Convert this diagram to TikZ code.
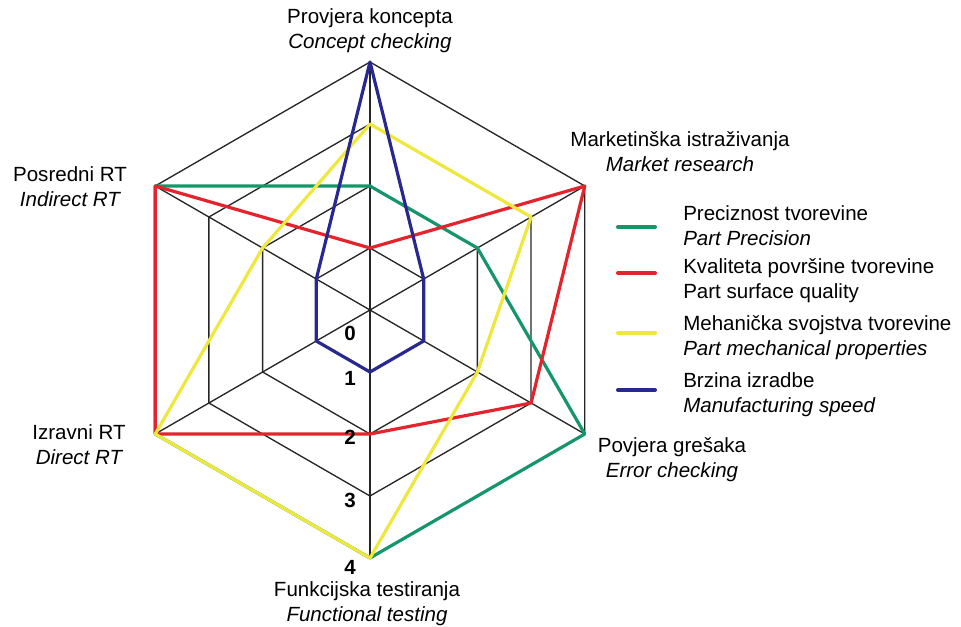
\documentclass[tikz,border=0pt]{standalone}
\usepackage{fontspec}
\setmainfont{Liberation Sans}
\definecolor{precgreen}{RGB}{20,150,105}
\definecolor{surfred}{RGB}{228,35,45}
\definecolor{mechyellow}{RGB}{238,232,60}
\definecolor{speedblue}{RGB}{40,40,145}
\begin{document}
\begin{tikzpicture}
  [
    x=0.75pt, y=0.75pt,
    grid/.style={draw=black!85, line width=1pt},
    series/.style={line width=2.4pt, line join=round},
    swatch/.style={line width=3pt, line cap=round},
    every node/.style={font=\fontsize{15.4}{18.75}\selectfont, align=center, inner sep=0pt},
    num/.style={font=\fontsize{15.4}{18.75}\selectfont\bfseries},
    legtext/.style={anchor=west, align=left}
  ]
  \useasboundingbox (-370,-316) rectangle (591,310);
  \foreach \k in {0,...,5}
    \foreach \l in {0,...,4}
      \coordinate (p\k-\l) at ({90-60*\k}:{62*\l});
  \foreach \l in {1,...,4}
    \draw[grid] (p0-\l) -- (p1-\l) -- (p2-\l) -- (p3-\l) -- (p4-\l) -- (p5-\l) -- cycle;
  \foreach \k in {0,...,5}
    \draw[grid] (p0-0) -- (p\k-4);
  \draw[series, precgreen] (p0-2) -- (p1-2) -- (p2-4) -- (p3-4) -- (p4-4) -- (p5-4) -- cycle;
  \draw[series, surfred] (p0-1) -- (p1-4) -- (p2-3) -- (p3-2) -- (p4-4) -- (p5-4) -- cycle;
  \draw[series, mechyellow] (p0-3) -- (p1-3) -- (p2-2) -- (p3-4) -- (p4-4) -- (p5-2) -- cycle;
  \draw[series, speedblue] (p0-4) -- (p1-1) -- (p2-1) -- (p3-1) -- (p4-1) -- (p5-1) -- cycle;
  \foreach \l/\y in {0/-23,1/-68,2/-127,3/-190,4/-257}
    \node[num] (n\l) at (-20,\y) {\l};
  \node (concept) at (0,279) {Provjera koncepta\\\itshape Concept checking};
  \node (market) at (310,158) {Marketinška istraživanja\\\itshape Market research};
  \node (error) at (302,-150) {Povjera grešaka\\\itshape Error checking};
  \node (functional) at (-3,-294) {Funkcijska testiranja\\\itshape Functional testing};
  \node (direct) at (-291,-135) {Izravni RT\\\itshape Direct RT};
  \node (indirect) at (-300,123) {Posredni RT\\\itshape Indirect RT};
  \node[legtext] (leg1) at (313,84) {Preciznost tvorevine\\\itshape Part Precision};
  \node[legtext] (leg2) at (313,29) {Kvaliteta površine tvorevine\\Part surface quality};
  \node[legtext] (leg3) at (313,-28) {Mehanička svojstva tvorevine\\\itshape Part mechanical properties};
  \node[legtext] (leg4) at (313,-85) {Brzina izradbe\\\itshape Manufacturing speed};
  \draw[swatch, precgreen] (248,83) -- (285,83);
  \draw[swatch, surfred] (248,37) -- (285,37);
  \draw[swatch, mechyellow] (248,-23) -- (285,-23);
  \draw[swatch, speedblue] (248,-80) -- (285,-80);
\end{tikzpicture}
\end{document}
